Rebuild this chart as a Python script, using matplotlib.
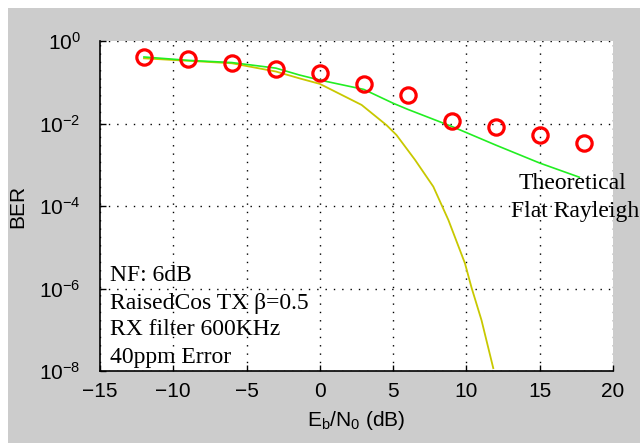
import numpy as np
import matplotlib
matplotlib.use("Agg")
import matplotlib.pyplot as plt
from matplotlib.patches import Rectangle

plt.rcParams['font.family'] = ['Liberation Sans', 'DejaVu Sans']
plt.rcParams['mathtext.fontset'] = 'custom'
plt.rcParams['mathtext.rm'] = 'Liberation Sans'
plt.rcParams['mathtext.default'] = 'regular'

# simulated BER (red circles)
sim_ebno = [-12, -9, -6, -3, 0, 3, 6, 9, 12, 15, 18]
sim_ber = [0.41, 0.36, 0.30, 0.21, 0.17, 0.089, 0.05, 0.0117, 0.0083, 0.0053, 0.0033]

# theoretical flat rayleigh (green)
ray_ebno = [-12, -9, -6, -3, -1.4, 0, 3, 5, 6, 9, 12, 15, 17.7]
ray_ber = [0.41, 0.34, 0.30, 0.22, 0.15, 0.113, 0.067, 0.031, 0.022, 0.0085, 0.003, 0.0011, 0.0005]

# awgn-like curve (olive), log10 of BER
awgn_ebno = [-12, -9, -6, -3, -1.4, 0, 2.85, 4.55, 5.23, 6.49, 7.74, 8.77, 9.9, 10.35, 11.03, 11.83]
awgn_logber = [-0.42, -0.48, -0.54, -0.74, -0.905, -1.04, -1.55, -2.04, -2.28, -2.88, -3.53,
               -4.34, -5.39, -5.98, -6.77, -7.93]

yticks = [1e-8, 1e-6, 1e-4, 1e-2, 1e0]
ylabels = [r'$10^{-8}$', r'$10^{-6}$', r'$10^{-4}$', r'$10^{-2}$', r'$10^{0}$']
xticks = [-15, -10, -5, 0, 5, 10, 15, 20]

fig = plt.figure(figsize=(6.4, 4.43), dpi=100, facecolor='white')
fig.patches.append(Rectangle((8/640, 0), 1, 1 - 8/443, transform=fig.transFigure,
                             facecolor='#cccccc', edgecolor='none', zorder=-10))
ax = fig.add_axes([100/640, 1 - 371/443, 513/640, 330/443])
ax.set_facecolor('white')

ax.semilogy(awgn_ebno, 10**np.array(awgn_logber), color='#c8c800', lw=1.3, zorder=3)
ax.semilogy(ray_ebno, ray_ber, color='#22ee22', lw=1.2, zorder=4)
ax.semilogy(sim_ebno, sim_ber, 'o', mfc='none', mec='red', ms=11, mew=2.3, zorder=5)

ax.set_xlim(-15, 20)
ax.set_ylim(1e-8, 1e0)
ax.set_xticks(xticks)
ax.set_xticklabels([str(x).replace('-', '\u2212') for x in xticks])
ax.set_yticks(yticks)
ax.set_yticklabels(ylabels)
ax.yaxis.set_minor_locator(matplotlib.ticker.NullLocator())
ax.tick_params(direction='in', length=4, width=1, labelsize=15, color='black')
ax.tick_params(axis='x', pad=8)
ax.tick_params(axis='y', pad=14)
ax.grid(True, color='black', linestyle=(0, (1, 5)), linewidth=1)
for s in ['top', 'right']:
    ax.spines[s].set_visible(False)
for s in ['left', 'bottom']:
    ax.spines[s].set_linewidth(1.2)

ax.set_xlabel(r'E$_{b}$/N$_{0}$ (dB)', fontsize=15, labelpad=6)
ax.set_ylabel('BER', fontsize=15, labelpad=8)

serif = ['Liberation Serif', 'DejaVu Serif']
ax.text(13.55, 10**-3.595, 'Theoretical', ha='left', va='baseline',
        fontsize=17, family=serif, clip_on=False, zorder=6)
ax.text(13.05, 10**-4.26, 'Flat Rayleigh', ha='left', va='baseline',
        fontsize=17, family=serif, clip_on=False, zorder=6)
notes = ['NF: 6dB', 'RaisedCos TX \u03b2=0.5', 'RX filter 600KHz', '40ppm Error']
base = [0.2736, 0.1879, 0.1091, 0.0252]
for t, b in zip(notes, base):
    ax.text(0.0195, b, t, transform=ax.transAxes, ha='left', va='baseline',
            fontsize=17, family=serif, zorder=6)

fig.savefig('out.png', dpi=100, facecolor=fig.get_facecolor())
